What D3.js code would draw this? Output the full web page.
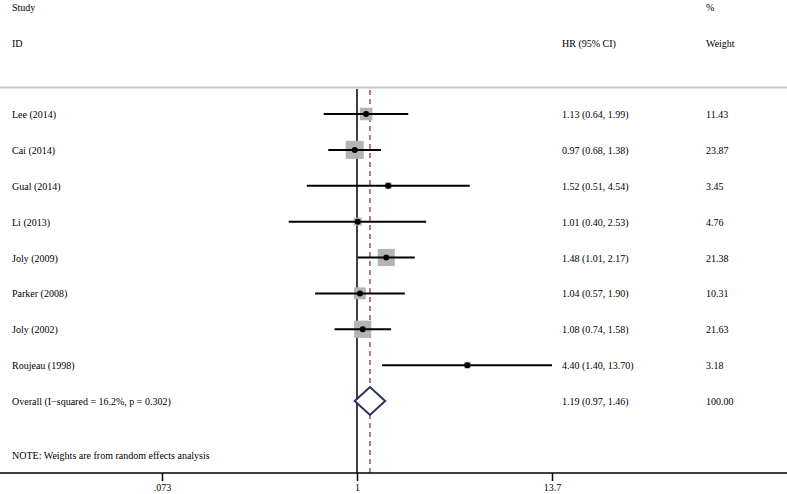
<!DOCTYPE html>
<html><head><meta charset="utf-8">
<script src="https://cdn.jsdelivr.net/npm/d3@7"></script>
<style>body{margin:0;background:#fff}svg{display:block}text{font-family:"Liberation Serif","Times New Roman",serif;font-size:10px;fill:#000}</style>
</head><body><svg id="c" width="787" height="494"></svg>
<script>
const studies = ["Lee (2014)","Cai (2014)","Gual (2014)","Li (2013)","Joly (2009)","Parker (2008)","Joly (2002)","Roujeau (1998)"];
const hr = [1.13,0.97,1.52,1.01,1.48,1.04,1.08,4.40];
const lower = [0.64,0.68,0.51,0.40,1.01,0.57,0.74,1.40];
const upper = [1.99,1.38,4.54,2.53,2.17,1.90,1.58,13.70];
const weights = [11.43,23.87,3.45,4.76,21.38,10.31,21.63,3.18];
const overall = {label:"Overall  (I\u2212squared = 16.2%, p = 0.302)", hr:1.19, lower:0.97, upper:1.46, weight:100.00};
const tickValues = [0.073, 1, 13.7];
const tickLabels = [".073","1","13.7"];

const svg = d3.select("#c");
const x = d3.scaleLog().domain([0.073, 13.7]).range([162, 552]);
const rows = studies.concat(["Overall"]);
const y = d3.scalePoint().domain(rows).range([114, 401]);
const fmt = d3.format(".2f");

// headers
svg.append("text").attr("x",12).attr("y",11).text("Study");
svg.append("text").attr("x",12).attr("y",47).text("ID");
svg.append("text").attr("x",562).attr("y",47).text("HR (95% CI)");
svg.append("text").attr("x",706).attr("y",11).text("%");
svg.append("text").attr("x",706).attr("y",47).text("Weight");
svg.append("line").attr("x1",0).attr("x2",787).attr("y1",87.5).attr("y2",87.5).attr("stroke","#c8c8c8").attr("stroke-width",2);

const axisY = 473;
// null line
svg.append("line").attr("x1",x(1)).attr("x2",x(1)).attr("y1",89).attr("y2",axisY).attr("stroke","#000").attr("stroke-width",1.5);
// overall dashed line
svg.append("line").attr("x1",x(overall.hr)).attr("x2",x(overall.hr)).attr("y1",90).attr("y2",axisY)
  .attr("stroke","#a0525a").attr("stroke-width",1.5).attr("stroke-dasharray","5,4");

// squares
const k = 3.7;
studies.forEach((s,i)=>{
  const cy = y(s), side = k*Math.sqrt(weights[i]);
  svg.append("rect").attr("x",x(hr[i])-side/2).attr("y",cy-side/2).attr("width",side).attr("height",side).attr("fill","#b4b4b4");
});
studies.forEach((s,i)=>{
  const cy = y(s);
  svg.append("line").attr("x1",x(lower[i])).attr("x2",x(upper[i])).attr("y1",cy).attr("y2",cy).attr("stroke","#000").attr("stroke-width",2);
  svg.append("circle").attr("cx",x(hr[i])).attr("cy",cy).attr("r",3).attr("fill","#000");
  svg.append("text").attr("x",12).attr("y",cy+4).text(s);
  svg.append("text").attr("x",562).attr("y",cy+4).text(`${fmt(hr[i])} (${fmt(lower[i])}, ${fmt(upper[i])})`);
  svg.append("text").attr("x",706).attr("y",cy+4).text(fmt(weights[i]));
});
// diamond
const oy = y("Overall");
svg.append("path").attr("d",`M${x(overall.lower)},${oy}L${x(overall.hr)},${oy-14}L${x(overall.upper)},${oy}L${x(overall.hr)},${oy+14}Z`)
  .attr("fill","#fff").attr("stroke","#2b2f5e").attr("stroke-width",2);
svg.append("text").attr("x",12).attr("y",oy+4).text(overall.label);
svg.append("text").attr("x",562).attr("y",oy+4).text(`${fmt(overall.hr)} (${fmt(overall.lower)}, ${fmt(overall.upper)})`);
svg.append("text").attr("x",706).attr("y",oy+4).text(fmt(overall.weight));

svg.append("text").attr("x",12).attr("y",459).text("NOTE: Weights are from random effects analysis");

// axis
svg.append("line").attr("x1",0).attr("x2",787).attr("y1",axisY).attr("y2",axisY).attr("stroke","#000").attr("stroke-width",1.5);
const axis = d3.axisBottom(x).tickValues(tickValues).tickFormat((d,i)=>tickLabels[i]).tickSize(8).tickPadding(3);
const g = svg.append("g").attr("transform",`translate(0,${axisY})`).call(axis);
g.select(".domain").remove();
g.selectAll(".tick line").attr("stroke","#000").attr("stroke-width",1.5);
g.selectAll(".tick text").style("font-family",'"Liberation Serif",serif').style("font-size","10px");
</script></body></html>
